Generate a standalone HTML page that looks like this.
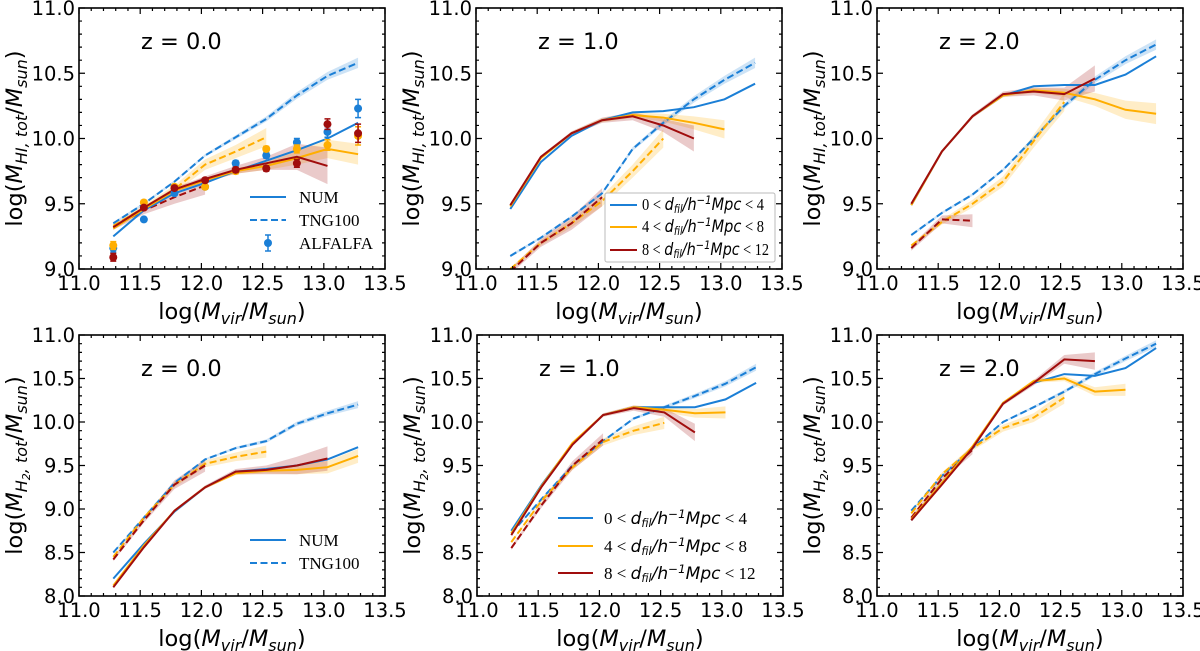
<!DOCTYPE html>
<html><head><meta charset="utf-8"><style>
body{margin:0;background:#fff}
svg{display:block;font-family:"DejaVu Sans","Liberation Sans",sans-serif}
.tk{font-size:19.5px;fill:#000}
.ax{font-size:22.5px;fill:#000}
.lg{font-family:"Liberation Serif",serif;font-size:17px}
.it{font-family:"DejaVu Sans",sans-serif;font-style:italic}
</style></head><body>
<svg id="c" width="1200" height="651" viewBox="0 0 1200 651"></svg>
<script>
const xs = [11.28,11.53,11.78,12.03,12.28,12.53,12.78,13.03,13.28];
const xTicks = ["11.0","11.5","12.0","12.5","13.0","13.5"];
const yTicksHI = ["9.0","9.5","10.0","10.5","11.0"];
const yTicksH2 = ["8.0","8.5","9.0","9.5","10.0","10.5","11.0"];
const zLabels = ["z = 0.0","z = 1.0","z = 2.0"];
// panel 1 HI z=0
const p1BlueSolid=[9.25,9.45,9.58,9.66,9.75,9.83,9.91,10.0,10.12];
const p1BlueDash=[9.35,9.5,9.67,9.87,10.01,10.15,10.33,10.48,10.58];
const p1OrSolid=[9.31,9.46,9.6,9.68,9.75,9.79,9.85,9.92,9.88];
const p1OrDash=[9.33,9.47,9.61,9.8,9.9,10.01];
const p1RedSolid=[9.32,9.47,9.61,9.69,9.76,9.81,9.86,9.79];
const p1RedDash=[9.32,9.45,9.55,9.64];
const obsBlue=[9.16,9.38,9.58,9.63,9.81,9.87,9.97,10.05,10.23];
const obsOr=[9.18,9.51,9.63,9.63,9.75,9.92,9.92,9.95,10.02];
const obsRed=[9.09,9.47,9.62,9.68,9.76,9.77,9.81,10.11,10.04];
const obsErr=[0.03,0.015,0.015,0.015,0.02,0.02,0.03,0.04,0.07];
// panel 2 HI z=1
const p2BlueSolid=[9.46,9.82,10.02,10.14,10.2,10.21,10.24,10.3,10.42];
const p2BlueDash=[9.1,9.24,9.4,9.58,9.92,10.12,10.3,10.45,10.58];
const p2OrSolid=[9.48,9.85,10.04,10.14,10.18,10.16,10.12,10.07];
const p2OrDash=[9.0,9.2,9.35,9.52,9.75,10.0];
const p2RedSolid=[9.49,9.86,10.04,10.14,10.17,10.1,10.0];
const p2RedDash=[8.98,9.2,9.35,9.55];
// panel 3 HI z=2
const p3BlueSolid=[9.49,9.9,10.17,10.33,10.4,10.41,10.41,10.49,10.63];
const p3BlueDash=[9.26,9.43,9.57,9.76,10.0,10.25,10.45,10.6,10.72];
const p3OrSolid=[9.49,9.9,10.17,10.33,10.37,10.35,10.3,10.22,10.19];
const p3OrDash=[9.18,9.36,9.5,9.67,9.98,10.28];
const p3RedSolid=[9.5,9.9,10.17,10.34,10.36,10.34,10.46];
const p3RedDash=[9.16,9.38,9.37];
// panel 4 H2 z=0
const p4BlueSolid=[8.2,8.6,8.97,9.25,9.43,9.46,9.5,9.57,9.71];
const p4BlueDash=[8.5,8.9,9.3,9.57,9.7,9.78,9.98,10.1,10.2];
const p4OrSolid=[8.12,8.58,8.98,9.25,9.41,9.44,9.45,9.48,9.61];
const p4OrDash=[8.45,8.9,9.28,9.52,9.6,9.66];
const p4RedSolid=[8.1,8.56,8.98,9.25,9.43,9.45,9.5,9.58];
const p4RedDash=[8.42,8.87,9.28,9.5];
// panel 5 H2 z=1
const p5BlueSolid=[8.75,9.28,9.75,10.08,10.17,10.17,10.17,10.26,10.45];
const p5BlueDash=[8.72,9.12,9.5,9.78,10.04,10.17,10.3,10.44,10.63];
const p5OrSolid=[8.72,9.27,9.76,10.08,10.17,10.14,10.1,10.11];
const p5OrDash=[8.62,9.1,9.48,9.77,9.9,9.99];
const p5RedSolid=[8.7,9.26,9.74,10.08,10.16,10.11,9.88];
const p5RedDash=[8.55,9.05,9.5,9.8];
// panel 6 H2 z=2
const p6BlueSolid=[8.87,9.3,9.7,10.22,10.45,10.55,10.53,10.62,10.85];
const p6BlueDash=[8.98,9.38,9.7,10.0,10.17,10.35,10.55,10.73,10.9];
const p6OrSolid=[8.88,9.3,9.72,10.22,10.47,10.5,10.35,10.37];
const p6OrDash=[8.95,9.4,9.7,9.93,10.05,10.28];
const p6RedSolid=[8.87,9.28,9.7,10.21,10.45,10.72,10.7];
const p6RedDash=[8.9,9.35,9.68];
// band half-widths
const bandBlueDash=[0.01,0.01,0.01,0.01,0.015,0.02,0.025,0.03,0.04];
const bandOrSolid=[0.01,0.01,0.01,0.015,0.02,0.03,0.05,0.07,0.08];
const bandOrDash=[0.01,0.02,0.03,0.04,0.05,0.07];
const bandRedSolid=[0.01,0.01,0.015,0.02,0.03,0.05,0.1,0.14];
const bandRedDash=[0.02,0.03,0.05,0.07];

const BLUE="#1b7fd6",OR="#ffae00",RED="#a00d0d";
const NS="http://www.w3.org/2000/svg";
const svg=document.getElementById('c');
function mk(tag,attrs,parent){const e=document.createElementNS(NS,tag);for(const k in attrs)e.setAttribute(k,attrs[k]);(parent||svg).appendChild(e);return e;}

const panels=[
 {L:79,T:8,y0:9,y1:11,yt:yTicksHI,kind:"HI",z:0,s:[p1BlueSolid,p1BlueDash,p1OrSolid,p1OrDash,p1RedSolid,p1RedDash]},
 {L:476,T:8,y0:9,y1:11,yt:yTicksHI,kind:"HI",z:1,s:[p2BlueSolid,p2BlueDash,p2OrSolid,p2OrDash,p2RedSolid,p2RedDash]},
 {L:877,T:8,y0:9,y1:11,yt:yTicksHI,kind:"HI",z:2,s:[p3BlueSolid,p3BlueDash,p3OrSolid,p3OrDash,p3RedSolid,p3RedDash]},
 {L:79,T:335,y0:8,y1:11,yt:yTicksH2,kind:"H2",z:0,s:[p4BlueSolid,p4BlueDash,p4OrSolid,p4OrDash,p4RedSolid,p4RedDash]},
 {L:477,T:335,y0:8,y1:11,yt:yTicksH2,kind:"H2",z:1,s:[p5BlueSolid,p5BlueDash,p5OrSolid,p5OrDash,p5RedSolid,p5RedDash]},
 {L:877,T:335,y0:8,y1:11,yt:yTicksH2,kind:"H2",z:2,s:[p6BlueSolid,p6BlueDash,p6OrSolid,p6OrDash,p6RedSolid,p6RedDash]}
];
const W=306,H=261;
function legText(t,a,b){
  t.innerHTML=a+' &lt; <tspan class="it">d</tspan><tspan class="it" font-size="0.65em" dy="3">fil</tspan><tspan dy="-3" class="it">/h</tspan><tspan class="it" font-size="0.7em" dy="-6">−1</tspan><tspan dy="6" class="it">Mpc</tspan> &lt; '+b;
}
panels.forEach((p,pi)=>{
  const g=mk('g',{});
  
  
  const X=v=>p.L+(v-11)/2.5*W;
  const Y=v=>p.T+H-(v-p.y0)/(p.y1-p.y0)*H;
  const cp=mk('clipPath',{id:'cp'+pi},g);
  mk('rect',{x:p.L,y:p.T,width:W,height:H},cp);
  const d=mk('g',{'clip-path':'url(#cp'+pi+')'},g);
  
  
  const line=(arr,col,dash,name)=>{
    const pts=arr.map((v,i)=>X(xs[i]).toFixed(1)+','+Y(v).toFixed(1)).join(' ');
    const e=mk('polyline',{points:pts,fill:'none',stroke:col,'stroke-width':2,'stroke-dasharray':dash?'7,3.5':'none'},d);
    
    
  };
  const band=(arr,err,col,name)=>{
    const up=arr.map((v,i)=>X(xs[i])+','+Y(v+err[i]));
    const dn=arr.map((v,i)=>X(xs[i])+','+Y(v-err[i])).reverse();
    const e=mk('polygon',{points:up.concat(dn).join(' '),fill:col,opacity:0.22},d);
    
    
  };
  const s=p.s;
  band(s[1],bandBlueDash,BLUE,'band-blue-dashed');
  band(s[2],bandOrSolid,OR,'band-orange-solid');
  band(s[3],bandOrDash,OR,'band-orange-dashed');
  band(s[4],bandRedSolid,RED,'band-red-solid');
  band(s[5],bandRedDash,RED,'band-red-dashed');
  line(s[1],BLUE,true,'line-blue-tng100');
  line(s[3],OR,true,'line-orange-tng100');
  line(s[5],RED,true,'line-red-tng100');
  line(s[0],BLUE,false,'line-blue-num');
  line(s[2],OR,false,'line-orange-num');
  line(s[4],RED,false,'line-red-num');
  if(pi===0){
    [[obsBlue,BLUE],[obsOr,OR],[obsRed,RED]].forEach(([arr,col])=>{
      arr.forEach((v,i)=>{
        const x=X(xs[i]);
        const eb=mk('path',{d:`M${x},${Y(v+obsErr[i])}V${Y(v-obsErr[i])}M${x-3},${Y(v+obsErr[i])}h6M${x-3},${Y(v-obsErr[i])}h6`,stroke:col,'stroke-width':1.5,fill:'none'},d);
        
        
        const c=mk('circle',{cx:x,cy:Y(v),r:4,fill:col},d);
        
        
      });
    });
  }
  const fr=mk('rect',{x:p.L,y:p.T,width:W,height:H,fill:'none',stroke:'#000','stroke-width':1.6},g);
  
  
  let tp='';
  for(let v=11;v<=13.501;v+=0.1){const x=X(v);const maj=Math.abs(v*2-Math.round(v*2))<0.01;const l=maj?6:3;tp+=`M${x},${p.T+H}v${-l}M${x},${p.T}v${l}`;}
  for(let v=p.y0;v<=p.y1+0.001;v+=0.1){const y=Y(v);const maj=Math.abs(v*2-Math.round(v*2))<0.01;const l=maj?6:3;tp+=`M${p.L},${y}h${l}M${p.L+W},${y}h${-l}`;}
  const tk=mk('path',{d:tp,stroke:'#000','stroke-width':1.2,fill:'none'},g);
  
  
  xTicks.forEach(t=>{const e=mk('text',{x:X(+t),y:p.T+H+21,'text-anchor':'middle',class:'tk'},g);e.textContent=t;
    });
  p.yt.forEach(t=>{const e=mk('text',{x:p.L-4,y:Y(+t)+7,'text-anchor':'end',class:'tk'},g);e.textContent=t;
    });
  const xl=mk('text',{x:p.L+W/2,y:p.T+H+50,'text-anchor':'middle',class:'ax'},g);
  xl.innerHTML='log(<tspan font-style="italic">M</tspan><tspan font-style="italic" font-size="16" dy="5">vir</tspan><tspan dy="-5">/</tspan><tspan font-style="italic">M</tspan><tspan font-style="italic" font-size="16" dy="5">sun</tspan><tspan dy="-5">)</tspan>';
  
  const yx=p.L-57,yy=p.T+H/2;
  const yl=mk('text',{x:yx,y:yy,'text-anchor':'middle',class:'ax',transform:`rotate(-90 ${yx} ${yy})`},g);
  const sub=p.kind==="HI"?'HI, tot':'H<tspan font-size="11" dy="3">2</tspan><tspan dy="-3">, tot</tspan>';
  yl.innerHTML='log(<tspan font-style="italic">M</tspan><tspan font-style="italic" font-size="16" dy="5">'+sub+'</tspan><tspan dy="-5">/</tspan><tspan font-style="italic">M</tspan><tspan font-style="italic" font-size="16" dy="5">sun</tspan><tspan dy="-5">)</tspan>';
  
  const zt=mk('text',{x:p.L+62,y:p.T+41,class:'ax','font-size':23},g);
  zt.textContent=zLabels[p.z];
  

  if(pi===0||pi===3){
    const items=pi===0?[['NUM',false],['TNG100',true],['ALFALFA','pt']]:[['NUM',false],['TNG100',true]];
    items.forEach((it,k)=>{
      const y=(pi===0?197:540)+k*23;
      const lg=mk('g',{},g);
      if(it[1]==='pt'){mk('circle',{cx:268,cy:y,r:4,fill:BLUE},lg);mk('path',{d:`M268,${y-8}V${y+8}M265,${y-8}h6M265,${y+8}h6`,stroke:BLUE,'stroke-width':1.5},lg);}
      else mk('line',{x1:250,x2:286,y1:y,y2:y,stroke:BLUE,'stroke-width':2,'stroke-dasharray':it[1]?'7,3.5':'none'},lg);
      const t=mk('text',{x:299,y:y+6,class:'lg'},lg);t.textContent=it[0];
    });
  }
  if(pi===1){
    const b=mk('rect',{x:605,y:193,width:170,height:69,fill:'#fff',stroke:'#bbb','stroke-width':1,rx:2},g);
    
    [[BLUE,'0','4',205],[OR,'4','8',227],[RED,'8','12',250]].forEach(it=>{
      const lg=mk('g',{},g);
      mk('line',{x1:610,x2:637,y1:it[3],y2:it[3],stroke:it[0],'stroke-width':2},lg);
      const t=mk('text',{x:642,y:it[3]+5,class:'lg','font-size':12.5,textLength:it[2]==='12'?127:122,lengthAdjust:'spacingAndGlyphs'},lg);
      legText(t,it[1],it[2]);
    });
  }
  if(pi===4){
    [[BLUE,'0','4',518],[OR,'4','8',546],[RED,'8','12',573]].forEach(it=>{
      const lg=mk('g',{},g);
      mk('line',{x1:558,x2:593,y1:it[3],y2:it[3],stroke:it[0],'stroke-width':2},lg);
      const t=mk('text',{x:604,y:it[3]+6,class:'lg','font-size':16.5},lg);
      legText(t,it[1],it[2]);
    });
  }
});
</script>
</body></html>
